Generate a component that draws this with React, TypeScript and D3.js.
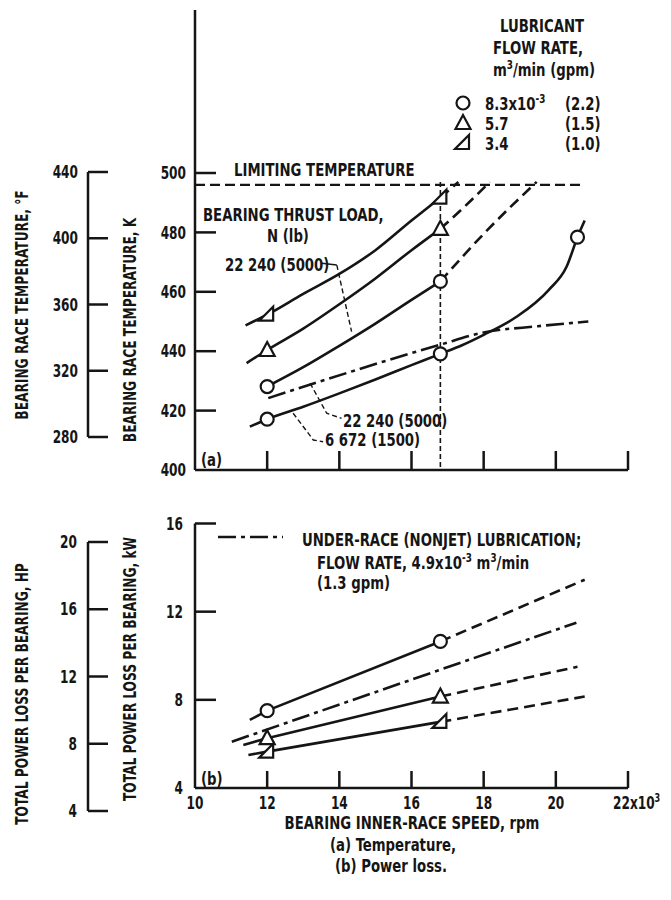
import React from 'react';
import * as d3 from 'd3';

type Pt = [number, number];

// ---- (a) bearing race temperature, K  (speed in 10^3 rpm) ----
const tempLeftSolid: Pt[] = [[11.4, 448.7], [12, 452.3], [13, 459.3], [14, 466], [15, 474], [16, 484], [16.8, 491.7]];
const tempLeftDash: Pt[] = [[16.8, 491.7], [17.3, 497]];
const tempUpSolid: Pt[] = [[11.43, 436], [12, 440.4], [13, 447.6], [14, 455.8], [15, 464.5], [16, 474], [16.8, 481.2]];
const tempUpDash: Pt[] = [[16.8, 481.2], [17.5, 489], [18.17, 497]];
const tempCircHiSolid: Pt[] = [[12, 428.1], [13, 434.6], [14, 441.8], [15, 449.3], [16, 457.3], [16.8, 463.5]];
const tempCircHiDash: Pt[] = [[16.8, 463.5], [18, 479.5], [19.47, 497]];
const tempCircLoSolid: Pt[] = [[11.52, 414.6], [12, 417.1], [13, 421.3], [14, 425.8], [15, 430.5], [16, 435.3], [16.8, 439.1], [17.4, 442], [18, 445.5], [18.9, 451.5], [19.8, 460.6], [20.3, 468.5], [20.6, 478.4], [20.8, 484]];
const tempNonjet: Pt[] = [[12.03, 424.2], [16.77, 442.1], [18, 446.3], [19.5, 448.4], [20.9, 450]];

const tempLeftMarks: Pt[] = [[12, 452.3], [16.8, 491.7]];
const tempUpMarks: Pt[] = [[12, 440.4], [16.8, 481.2]];
const tempCircHiMarks: Pt[] = [[12, 428.1], [16.8, 463.5]];
const tempCircLoMarks: Pt[] = [[12, 417.1], [16.8, 439.1], [20.6, 478.4]];

const limitTemp = 496;
const testSpeed = 16.8;

// ---- (b) power loss per bearing, kW ----
const powCircSolid: Pt[] = [[11.52, 7.09], [12, 7.51], [16.8, 10.65]];
const powCircDash: Pt[] = [[16.8, 10.65], [20.8, 13.45]];
const powUpSolid: Pt[] = [[11.34, 5.95], [12, 6.26], [16.8, 8.15]];
const powUpDash: Pt[] = [[16.8, 8.15], [20.6, 9.5]];
const powLeftSolid: Pt[] = [[11.48, 5.5], [12, 5.65], [16.8, 7.0]];
const powLeftDash: Pt[] = [[16.8, 7.0], [20.8, 8.15]];
const powNonjet: Pt[] = [[11.02, 6.1], [20.57, 11.5]];

const powCircMarks: Pt[] = [[12, 7.51], [16.8, 10.65]];
const powUpMarks: Pt[] = [[12, 6.26], [16.8, 8.15]];
const powLeftMarks: Pt[] = [[12, 5.65], [16.8, 7.0]];

// ---- axes ----
const speedTicks = [10, 12, 14, 16, 18, 20, 22];
const kTicks = [400, 420, 440, 460, 480, 500];
const fTicks = [280, 320, 360, 400, 440];
const kwTicks = [4, 8, 12, 16];
const hpTicks = [4, 8, 12, 16, 20];

// legend
const flowSymbols = ['circle', 'up', 'left'];
const flowSI = ['8.3x10', '5.7', '3.4'];
const flowGpm = ['(2.2)', '(1.5)', '(1.0)'];

const FONT = '"DejaVu Sans Condensed", "Liberation Sans Narrow", "DejaVu Sans", sans-serif';
const INK = '#151515';

const x = d3.scaleLinear().domain([10, 22]).range([195, 628]);
const yK = d3.scaleLinear().domain([400, 500]).range([470, 173]);
const yF = d3.scaleLinear().domain([280, 440]).range([437, 172]);
const yKW = d3.scaleLinear().domain([4, 16]).range([788, 523.5]);
const yHP = d3.scaleLinear().domain([4, 20]).range([811, 542]);

const lineK = d3.line<Pt>().x(d => x(d[0])).y(d => yK(d[1])).curve(d3.curveMonotoneX);
const lineKW = d3.line<Pt>().x(d => x(d[0])).y(d => yKW(d[1]));

const SOLID = undefined;
const DASH = '11,6';
const DASHDOT = '18,5,4,5';

const Marker = ({ kind, cx, cy, sw = 2.2 }: { kind: string; cx: number; cy: number; sw?: number }) => {
  if (kind === 'circle') return <circle cx={cx} cy={cy} r={6.5} fill="#fff" stroke={INK} strokeWidth={sw} />;
  if (kind === 'up')
    return <path d={`M${cx},${cy - 8}L${cx + 7.5},${cy + 6}L${cx - 7.5},${cy + 6}Z`} fill="#fff" stroke={INK} strokeWidth={sw} />;
  return <path d={`M${cx + 6},${cy - 8}L${cx + 6},${cy + 6}L${cx - 8},${cy + 6}Z`} fill="#fff" stroke={INK} strokeWidth={sw} />;
};

// condensed bold text: the scan's lettering is tall and narrow
const T = ({ x = 0, y = 0, rot, sx = 0.82, fs = 18, ...p }: any) => (
  <text
    transform={`translate(${x},${y})${rot !== undefined ? ` rotate(${rot})` : ''} scale(${sx},1)`}
    fontFamily={FONT}
    fontWeight="bold"
    fontSize={fs}
    fill={INK}
    {...p}
  />
);

export default function App() {
  const tempCurves: [Pt[], string | undefined][] = [
    [tempLeftSolid, SOLID], [tempLeftDash, DASH],
    [tempUpSolid, SOLID], [tempUpDash, DASH],
    [tempCircHiSolid, SOLID], [tempCircHiDash, DASH],
    [tempCircLoSolid, SOLID], [tempNonjet, DASHDOT],
  ];
  const powCurves: [Pt[], string | undefined][] = [
    [powCircSolid, SOLID], [powCircDash, DASH],
    [powUpSolid, SOLID], [powUpDash, DASH],
    [powLeftSolid, SOLID], [powLeftDash, DASH],
    [powNonjet, DASHDOT],
  ];
  const tempMarks: [Pt[], string][] = [
    [tempLeftMarks, 'left'], [tempUpMarks, 'up'], [tempCircHiMarks, 'circle'], [tempCircLoMarks, 'circle'],
  ];
  const powMarks: [Pt[], string][] = [
    [powCircMarks, 'circle'], [powUpMarks, 'up'], [powLeftMarks, 'left'],
  ];

  // leader lines in data units
  const leaderHi: Pt[] = [[13.51, 469.6], [13.93, 469]];
  const leaderHiDash: Pt[] = [[13.93, 469], [14.34, 446.6]];
  const leaderLo: Pt[] = [[13.19, 429.2], [13.65, 419.1], [14.06, 417.4]];
  const leader6672: Pt[] = [[12.72, 419.1], [13.28, 410.1], [13.55, 409.5]];
  const kPath = (pts: Pt[]) => pts.map((d, i) => `${i ? 'L' : 'M'}${x(d[0])},${yK(d[1])}`).join('');

  const sup = (s: string) => <tspan dy={-7} fontSize={12}>{s}</tspan>;

  return (
    <svg width={671} height={900} style={{ display: 'block', position: 'absolute', left: 0, top: 0, background: '#fff' }}>
      {/* ---------- left scales: °F and HP ---------- */}
      <g stroke={INK} strokeWidth={2.5} fill="none">
        <line x1={88} x2={88} y1={yF(440)} y2={yF(280)} />
        {fTicks.map(t => <line key={t} x1={88} x2={108} y1={yF(t)} y2={yF(t)} />)}
        <line x1={88} x2={88} y1={yHP(20)} y2={yHP(4)} />
        {hpTicks.map(t => <line key={t} x1={88} x2={108} y1={yHP(t)} y2={yHP(t)} />)}
      </g>
      {fTicks.map(t => <T key={t} x={78} y={yF(t)} sx={0.75} textAnchor="end" dominantBaseline="central">{t}</T>)}
      {hpTicks.map(t => <T key={t} x={77} y={yHP(t)} sx={0.75} textAnchor="end" dominantBaseline="central">{t}</T>)}
      <T x={28} y={305} rot={-90} sx={0.8} fs={17} textAnchor="middle">BEARING RACE TEMPERATURE, °F</T>
      <T x={136} y={330} rot={-90} sx={0.8} fs={17} textAnchor="middle">BEARING RACE TEMPERATURE, K</T>
      <T x={28} y={694} rot={-90} sx={0.8} fs={17} textAnchor="middle">TOTAL POWER LOSS PER BEARING, HP</T>
      <T x={136} y={669} rot={-90} sx={0.8} fs={17} textAnchor="middle">TOTAL POWER LOSS PER BEARING, kW</T>

      {/* ---------- (a) temperature panel ---------- */}
      <g stroke={INK} strokeWidth={2.5} fill="none">
        <line x1={x(10)} x2={x(10)} y1={10} y2={yK(400)} />
        <line x1={x(10)} x2={x(22)} y1={yK(400)} y2={yK(400)} />
        {kTicks.slice(1).map(t => <line key={t} x1={x(10)} x2={x(10) + 21} y1={yK(t)} y2={yK(t)} />)}
        {speedTicks.slice(1).map(t => <line key={t} x1={x(t)} x2={x(t)} y1={yK(400)} y2={yK(400) - 19} />)}
      </g>
      {kTicks.map(t => <T key={t} x={186} y={yK(t)} sx={0.75} textAnchor="end" dominantBaseline="central">{t}</T>)}

      <line x1={x(10)} x2={x(20.75)} y1={yK(limitTemp)} y2={yK(limitTemp)} stroke={INK} strokeWidth={2.3} strokeDasharray="10,5" />
      <line x1={x(testSpeed)} x2={x(testSpeed)} y1={yK(497)} y2={yK(400)} stroke={INK} strokeWidth={1.6} strokeDasharray="5,3" />

      {tempCurves.map(([pts, dash], i) => (
        <path key={i} d={lineK(pts) || ''} fill="none" stroke={INK} strokeWidth={2.6} strokeDasharray={dash} />
      ))}
      <g fill="none" stroke={INK} strokeWidth={1.4}>
        <path d={kPath(leaderHi)} />
        <path d={kPath(leaderHiDash)} strokeDasharray="5,3" />
        <path d={kPath(leaderLo)} strokeDasharray="5,3" />
        <path d={kPath(leader6672)} strokeDasharray="5,3" />
      </g>
      {tempMarks.map(([pts, kind], i) =>
        pts.map((d, j) => <Marker key={`${i}-${j}`} kind={kind} cx={x(d[0])} cy={yK(d[1])} />)
      )}

      <T x={234} y={176}>LIMITING TEMPERATURE</T>
      <T x={203} y={221}>BEARING THRUST LOAD,</T>
      <T x={288} y={242} textAnchor="middle">N (lb)</T>
      <T x={225} y={271}>22 240 (5000)</T>
      <T x={343} y={427}>22 240 (5000)</T>
      <T x={325} y={446}>6 672 (1500)</T>
      <T x={201} y={466}>(a)</T>

      {/* legend */}
      <T x={542} y={32} textAnchor="middle">LUBRICANT</T>
      <T x={538} y={54} textAnchor="middle">FLOW RATE,</T>
      <T x={544} y={76} textAnchor="middle">m{sup('3')}<tspan dy={7}>/min (gpm)</tspan></T>
      {flowSymbols.map((s, i) => (
        <g key={s}>
          <Marker kind={s} cx={463} cy={103 + i * 20} />
          <T x={485} y={110 + i * 20}>
            {flowSI[i]}
            {i === 0 && sup('-3')}
          </T>
          <T x={565} y={110 + i * 20}>{flowGpm[i]}</T>
        </g>
      ))}

      {/* ---------- (b) power loss panel ---------- */}
      <g stroke={INK} strokeWidth={2.5} fill="none">
        <line x1={x(10)} x2={x(10)} y1={yKW(16)} y2={yKW(4)} />
        <line x1={x(10)} x2={x(22)} y1={yKW(4)} y2={yKW(4)} />
        {kwTicks.slice(1).map(t => <line key={t} x1={x(10)} x2={x(10) + 21} y1={yKW(t)} y2={yKW(t)} />)}
        {speedTicks.slice(1).map(t => <line key={t} x1={x(t)} x2={x(t)} y1={yKW(4)} y2={yKW(4) - 17} />)}
      </g>
      {kwTicks.map(t => <T key={t} x={183} y={yKW(t)} sx={0.75} textAnchor="end" dominantBaseline="central">{t}</T>)}

      {powCurves.map(([pts, dash], i) => (
        <path key={i} d={lineKW(pts) || ''} fill="none" stroke={INK} strokeWidth={2.6} strokeDasharray={dash} />
      ))}
      {powMarks.map(([pts, kind], i) =>
        pts.map((d, j) => <Marker key={`${i}-${j}`} kind={kind} cx={x(d[0])} cy={yKW(d[1])} />)
      )}

      <line x1={218} x2={283} y1={537} y2={537} stroke={INK} strokeWidth={2.6} strokeDasharray={DASHDOT} />
      <T x={302} y={546}>UNDER-RACE (NONJET) LUBRICATION;</T>
      <T x={317} y={569}>FLOW RATE, 4.9x10{sup('-3')}<tspan dy={7}> m</tspan>{sup('3')}<tspan dy={7}>/min</tspan></T>
      <T x={317} y={589}>(1.3 gpm)</T>
      <T x={201} y={785}>(b)</T>

      {speedTicks.map(t =>
        t === 22 ? (
          <T key={t} x={x(t) - 15} y={809} sx={0.75}>22x10{sup('3')}</T>
        ) : (
          <T key={t} x={x(t)} y={809} sx={0.75} textAnchor="middle">{t}</T>
        )
      )}
      <T x={412} y={829} textAnchor="middle">BEARING INNER-RACE SPEED, rpm</T>
      <T x={393} y={851} textAnchor="middle">(a) Temperature,</T>
      <T x={391} y={872} textAnchor="middle">(b) Power loss.</T>
    </svg>
  );
}
